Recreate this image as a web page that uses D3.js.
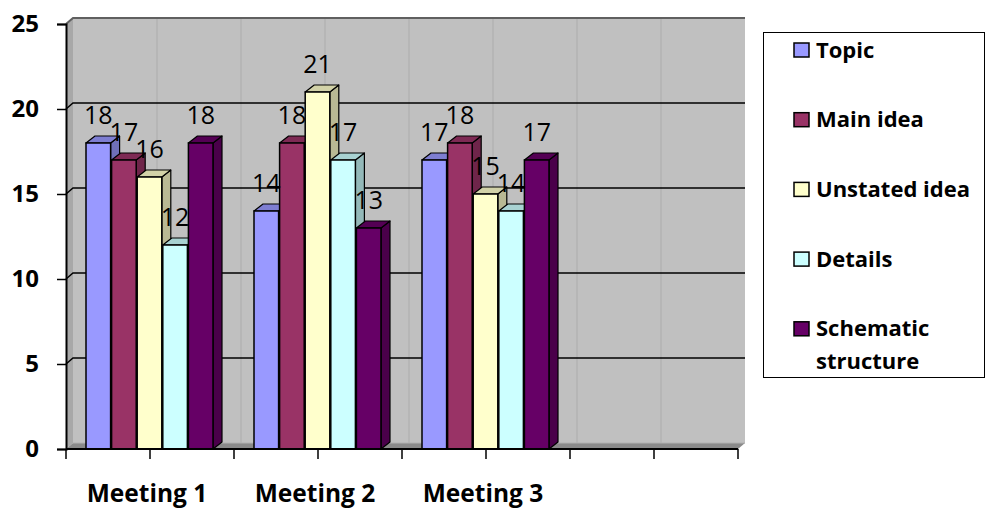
<!DOCTYPE html>
<html>
<head>
<meta charset="utf-8">
<script src="https://cdn.jsdelivr.net/npm/d3@7/dist/d3.min.js"></script>
<style>
  html, body { margin: 0; padding: 0; background: #fff; }
  svg { display: block; }
  text { font-family: "Open Sans", "Liberation Sans", sans-serif; }
</style>
</head>
<body>
<svg id="chart" width="986" height="508"></svg>
<script>
// ---- data ----
const categories = ["Meeting 1", "Meeting 2", "Meeting 3", ""];
const seriesNames = ["Topic", "Main idea", "Unstated idea", "Details", "Schematic structure"];
const topicValues = [18, 14, 17];
const mainIdeaValues = [17, 18, 18];
const unstatedIdeaValues = [16, 21, 15];
const detailsValues = [12, 17, 14];
const schematicValues = [18, 13, 17];
const yTicks = [0, 5, 10, 15, 20, 25];
const seriesColors = ["#9999FF", "#993366", "#FFFFCC", "#CCFFFF", "#660066"];

const seriesValues = [topicValues, mainIdeaValues, unstatedIdeaValues, detailsValues, schematicValues];

// ---- layout ----
const svg = d3.select("#chart");
const plotLeft = 66, plotRight = 738, plotBottom = 449, plotTop = 24;
const wallDx = 7, wallDy = -6;   // depth of walls
const barDx = 9, barDy = -7;     // depth of bars

const y = d3.scaleLinear().domain([0, 25]).range([plotBottom, plotTop]);
const x0 = d3.scaleBand().domain(categories).range([plotLeft, plotRight]);
const groupW = 128;
const x1 = d3.scaleBand().domain(seriesNames)
  .range([(x0.bandwidth() - groupW) / 2, (x0.bandwidth() + groupW) / 2]);

// ---- walls ----
svg.append("rect")
  .attr("x", plotLeft + wallDx).attr("y", y(25) + wallDy)
  .attr("width", plotRight - plotLeft).attr("height", y(0) - y(25))
  .attr("fill", "#C0C0C0");
svg.append("path")
  .attr("d", `M${plotLeft},${y(25)} L${plotLeft + wallDx},${y(25) + wallDy} L${plotLeft + wallDx},${y(0) + wallDy} L${plotLeft},${y(0)} Z`)
  .attr("fill", "#A8A8A8");
svg.append("path")
  .attr("d", `M${plotLeft},${y(0)} L${plotLeft + wallDx},${y(0) + wallDy} L${plotRight + wallDx},${y(0) + wallDy} L${plotRight},${y(0)} Z`)
  .attr("fill", "#8A8A8A");

const vTicks = [];
categories.forEach(c => { vTicks.push(x0(c)); vTicks.push(x0(c) + x0.bandwidth() / 2); });
vTicks.push(plotRight);
svg.append("g").selectAll("line").data(vTicks.slice(1, -1)).join("line")
  .attr("x1", d => d + wallDx).attr("x2", d => d + wallDx)
  .attr("y1", y(25) + wallDy).attr("y2", y(0) + wallDy)
  .attr("stroke", "#ACACAC").attr("stroke-width", 1);

svg.append("g").selectAll("path").data(yTicks.filter(t => t > 0 && t < 25)).join("path")
  .attr("d", d => `M${plotLeft},${y(d)} L${plotLeft + wallDx},${y(d) + wallDy} L${plotRight + wallDx},${y(d) + wallDy}`)
  .attr("fill", "none").attr("stroke", "#000").attr("stroke-width", 1.5);

svg.append("path")
  .attr("d", `M${plotLeft},${y(25)} L${plotLeft + wallDx},${y(25) + wallDy} L${plotRight + wallDx},${y(25) + wallDy}`)
  .attr("fill", "none").attr("stroke", "#606060").attr("stroke-width", 2);
svg.append("line")
  .attr("x1", plotLeft + wallDx).attr("x2", plotRight + wallDx)
  .attr("y1", y(0) + wallDy).attr("y2", y(0) + wallDy)
  .attr("stroke", "#B0B0B0").attr("stroke-width", 1);

// ---- bars ----
const barsG = svg.append("g");
const barW = x1.bandwidth() - 1;
categories.slice(0, 3).forEach((cat, ci) => {
  seriesNames.forEach((s, si) => {
    const v = seriesValues[si][ci];
    const bx = x0(cat) + x1(s);
    const by = y(v);
    const by0 = y(0);
    const base = d3.color(seriesColors[si]);
    const g = barsG.append("g");
    g.append("path")
      .attr("d", `M${bx + barW},${by} L${bx + barW + barDx},${by + barDy} L${bx + barW + barDx},${by0 + barDy} L${bx + barW},${by0} Z`)
      .attr("fill", base.darker(0.9)).attr("stroke", "#000").attr("stroke-width", 1.2).attr("stroke-linejoin", "round");
    g.append("path")
      .attr("d", `M${bx},${by} L${bx + barDx},${by + barDy} L${bx + barW + barDx},${by + barDy} L${bx + barW},${by} Z`)
      .attr("fill", base.darker(0.55)).attr("stroke", "#000").attr("stroke-width", 1.2).attr("stroke-linejoin", "round");
    g.append("rect")
      .attr("x", bx).attr("y", by).attr("width", barW).attr("height", by0 - by)
      .attr("fill", seriesColors[si]).attr("stroke", "#000").attr("stroke-width", 1.5);
  });
});

// value labels
categories.slice(0, 3).forEach((cat, ci) => {
  seriesNames.forEach((s, si) => {
    const v = seriesValues[si][ci];
    svg.append("text")
      .attr("x", x0(cat) + x1(s) + barW / 2)
      .attr("y", y(v) - 19)
      .attr("text-anchor", "middle")
      .attr("font-size", 25)
      .attr("font-weight", 500)
      .attr("fill", "#000")
      .text(v);
  });
});

// ---- axes ----
const yAxis = d3.axisLeft(y).tickValues(yTicks).tickSize(9).tickPadding(18).tickFormat(d3.format("d"));
const yg = svg.append("g").attr("transform", `translate(${plotLeft},0)`).call(yAxis);
yg.select(".domain").attr("stroke", "#000").attr("stroke-width", 2);
yg.selectAll(".tick line").attr("stroke", "#000").attr("stroke-width", 1.5);
yg.selectAll(".tick text")
  .attr("font-family", "'Open Sans', sans-serif")
  .attr("font-size", 24).attr("font-weight", "bold").attr("fill", "#000");

svg.append("line").attr("x1", plotLeft).attr("x2", plotRight).attr("y1", plotBottom).attr("y2", plotBottom)
  .attr("stroke", "#000").attr("stroke-width", 2);
svg.append("g").selectAll("line").data(vTicks).join("line")
  .attr("x1", d => d).attr("x2", d => d).attr("y1", plotBottom).attr("y2", plotBottom + 10)
  .attr("stroke", "#000").attr("stroke-width", 1.5);
svg.append("g").selectAll("text").data(categories.filter(c => c)).join("text")
  .attr("x", d => x0(d) + x0.bandwidth() / 2 - 3)
  .attr("y", 502)
  .attr("text-anchor", "middle")
  .attr("font-size", 24.5).attr("font-weight", "bold").attr("fill", "#000")
  .text(d => d);

// ---- legend ----
const lg = svg.append("g");
lg.append("rect").attr("x", 763.5).attr("y", 32.5).attr("width", 221).attr("height", 345)
  .attr("fill", "#fff").attr("stroke", "#000").attr("stroke-width", 1);
const legendLines = [["Topic"], ["Main idea"], ["Unstated idea"], ["Details"], ["Schematic", "structure"]];
seriesNames.forEach((s, i) => {
  const cy = 50 + i * 69.7;
  lg.append("rect").attr("x", 794).attr("y", cy - 7).attr("width", 15).attr("height", 14)
    .attr("fill", seriesColors[i]).attr("stroke", "#000").attr("stroke-width", 1.5);
  const t = lg.append("text").attr("x", 816).attr("y", cy + 7.5)
    .attr("font-size", 22).attr("font-weight", "bold").attr("fill", "#000");
  legendLines[i].forEach((line, li) => {
    t.append("tspan").attr("x", 816).attr("dy", li === 0 ? 0 : 33).text(line);
  });
});
</script>
</body>
</html>
